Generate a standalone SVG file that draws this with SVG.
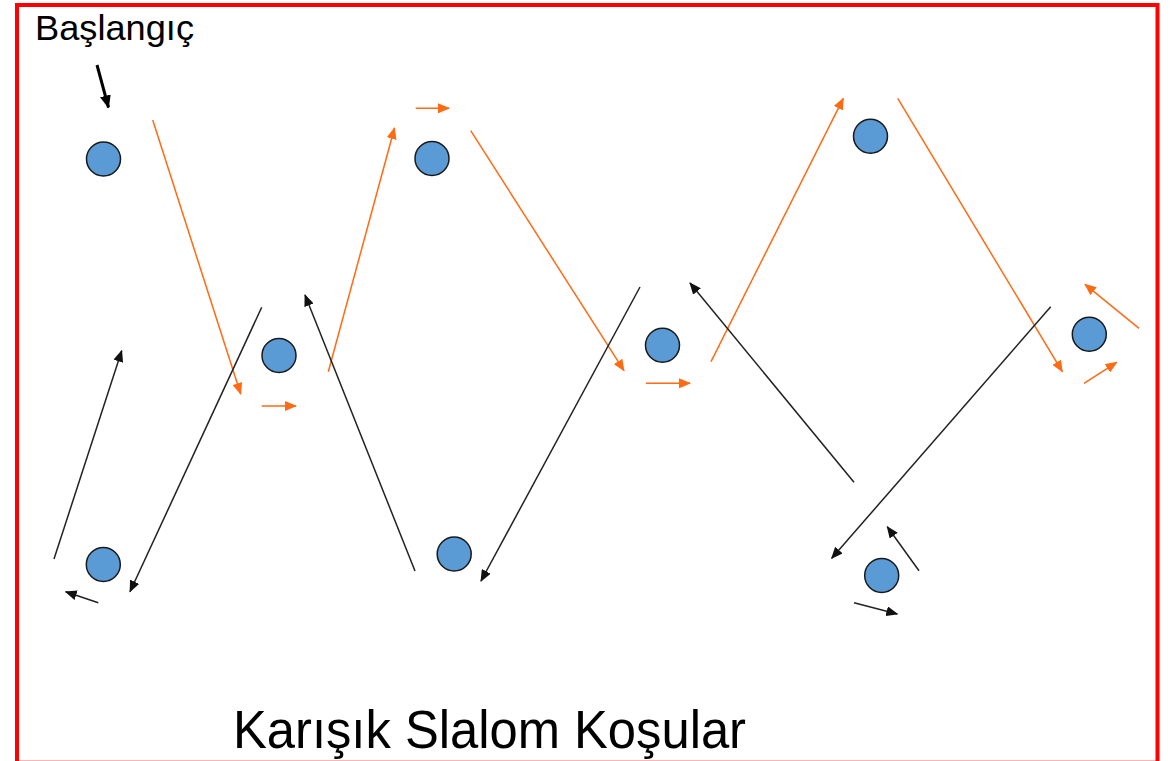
<svg xmlns="http://www.w3.org/2000/svg" width="1174" height="761" viewBox="0 0 1174 761">
<style>
.cone{fill:#5B9BD5;stroke:#1a1a1a;stroke-width:1.5}
.o{stroke:#FF6A13;stroke-width:1.5;fill:none;marker-end:url(#ao)}
.b{stroke:#222;stroke-width:1.5;fill:none;marker-end:url(#ab)}
.t{font-family:"Liberation Sans",Arial,sans-serif;fill:#000}
</style>
<defs>
<marker id="ao" markerUnits="userSpaceOnUse" viewBox="0 0 12 10" markerWidth="12" markerHeight="10" refX="11" refY="5" orient="auto">
<path d="M0,0 L12,5 L0,10 Z" fill="#FF6A13"/>
</marker>
<marker id="ab" markerUnits="userSpaceOnUse" viewBox="0 0 12 10" markerWidth="12" markerHeight="10" refX="11" refY="5" orient="auto">
<path d="M0,0 L12,5 L0,10 Z" fill="#111"/>
</marker>
<marker id="ak" markerUnits="userSpaceOnUse" viewBox="0 0 13 11" markerWidth="13" markerHeight="11" refX="12" refY="5.5" orient="auto">
<path d="M0,0 L13,5.5 L0,11 Z" fill="#000"/>
</marker>
</defs>
<rect x="0" y="0" width="1174" height="761" fill="#fff"/>
<rect x="17" y="5" width="1140.5" height="757.7" fill="none" stroke="#FF0000" stroke-width="4"/>
<g id="connectors">
<line x1="97" y1="65" x2="108.5" y2="107.5" stroke="#000" stroke-width="3" marker-end="url(#ak)"/>
<line class="o" x1="152.7" y1="120" x2="240.7" y2="394"/>
<line class="o" x1="261.7" y1="406" x2="296" y2="406"/>
<line class="o" x1="328.3" y1="371.7" x2="394.5" y2="128"/>
<line class="o" x1="415.7" y1="108.3" x2="449" y2="108.3"/>
<line class="o" x1="470.7" y1="130.7" x2="624" y2="370.7"/>
<line class="o" x1="646" y1="383.3" x2="690" y2="383.3"/>
<line class="o" x1="711" y1="361.7" x2="843.3" y2="98.3"/>
<line class="o" x1="897.7" y1="98.3" x2="1062.3" y2="371.7"/>
<line class="o" x1="1084" y1="383.3" x2="1116.7" y2="362.3"/>
<line class="o" x1="1139" y1="328.3" x2="1085" y2="284.3"/>
<line class="b" x1="54" y1="559" x2="121.7" y2="350.7"/>
<line class="b" x1="98.3" y1="602.7" x2="65.7" y2="591.7"/>
<line class="b" x1="261.7" y1="307.3" x2="130" y2="591.7"/>
<line class="b" x1="415" y1="571" x2="305" y2="295"/>
<line class="b" x1="640" y1="287" x2="481" y2="581"/>
<line class="b" x1="854" y1="482.3" x2="690" y2="283"/>
<line class="b" x1="1050.7" y1="306.7" x2="831.7" y2="558.3"/>
<line class="b" x1="919" y1="570.7" x2="887.3" y2="526.7"/>
<line class="b" x1="854" y1="602.7" x2="897.3" y2="614"/>
</g>
<g id="cone1"><circle class="cone" cx="103.5" cy="159" r="17"/></g>
<g id="cone2"><circle class="cone" cx="279" cy="355.5" r="17"/></g>
<g id="cone3"><circle class="cone" cx="432" cy="158.5" r="17"/></g>
<g id="cone4"><circle class="cone" cx="662.5" cy="345.3" r="17"/></g>
<g id="cone5"><circle class="cone" cx="870.5" cy="136.3" r="17"/></g>
<g id="cone6"><circle class="cone" cx="1089.3" cy="334.2" r="17"/></g>
<g id="cone7"><circle class="cone" cx="103.3" cy="564.5" r="17"/></g>
<g id="cone8"><circle class="cone" cx="454.2" cy="554" r="17"/></g>
<g id="cone9"><circle class="cone" cx="881.7" cy="575.5" r="17"/></g>
<g id="label-start"><text class="t" x="35" y="39.5" font-size="35" textLength="159" lengthAdjust="spacingAndGlyphs">Başlangıç</text></g>
<g id="title"><text class="t" x="233" y="748" font-size="54" textLength="513" lengthAdjust="spacingAndGlyphs">Karışık Slalom Koşular</text></g>
</svg>
